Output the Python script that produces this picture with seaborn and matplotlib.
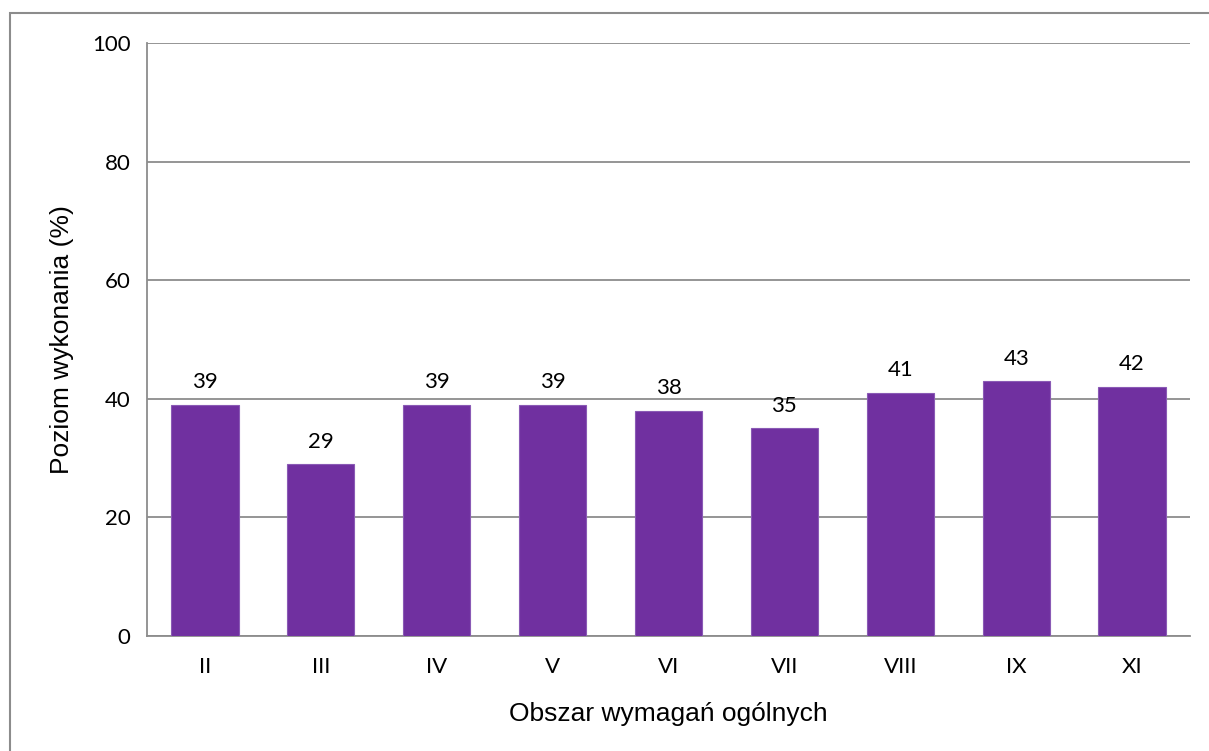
import matplotlib
matplotlib.use("Agg")
import matplotlib.pyplot as plt
from matplotlib.patches import Rectangle
from matplotlib.ticker import FixedLocator
import seaborn as sns
import pandas as pd

categories = ["II", "III", "IV", "V", "VI", "VII", "VIII", "IX", "XI"]
values = [39, 29, 39, 39, 38, 35, 41, 43, 42]
y_ticks = [0, 20, 40, 60, 80, 100]

sns.set_style("white")
plt.rcParams["font.family"] = ["Lato", "DejaVu Sans"]
plt.rcParams["text.color"] = "black"
plt.rcParams["axes.labelcolor"] = "black"
plt.rcParams["xtick.color"] = "black"
plt.rcParams["ytick.color"] = "black"

df = pd.DataFrame({"obszar": categories, "wynik": values})

fig = plt.figure(figsize=(12.09, 7.51), dpi=100)
ax = fig.add_axes([147 / 1209, 1 - 636 / 751, (1190 - 147) / 1209, (636 - 43) / 751])

grid_col = "#8c8c8c"
sns.barplot(data=df, x="obszar", y="wynik", color="#7030A0", saturation=1,
            width=0.58, ax=ax, zorder=3, edgecolor="#8a5ab5", linewidth=0.8)

ax.set_ylim(0, 100)
ax.set_xlim(-0.5, len(categories) - 0.5)
ax.set_yticks(y_ticks)
ax.yaxis.grid(True, color=grid_col, linewidth=1.3, zorder=0)
ax.set_axisbelow(True)

for s in ["top", "right"]:
    ax.spines[s].set_visible(False)
for s in ["left", "bottom"]:
    ax.spines[s].set_color(grid_col)
    ax.spines[s].set_linewidth(1.3)

ax.tick_params(axis="y", length=6, width=1.3, color=grid_col, labelcolor="black",
               labelsize=16, pad=6)
ax.tick_params(axis="x", which="major", length=0, labelcolor="black",
               labelsize=16, pad=15)
ax.xaxis.set_minor_locator(FixedLocator([i - 0.5 for i in range(len(categories) + 1)]))
ax.tick_params(axis="x", which="minor", length=6, width=1.3, color=grid_col)

ax.bar_label(ax.containers[0], fmt="%d", padding=9, fontsize=16, color="black")

lab_font = {"family": ["Liberation Sans", "DejaVu Sans"], "size": 19, "color": "black"}
ax.set_xlabel("Obszar wymagań ogólnych", fontdict=lab_font, labelpad=18)
ax.set_ylabel("Poziom wykonania (%)", fontdict=lab_font, labelpad=13)

fig.patches.append(Rectangle((10 / 1209, -0.1), 1.2, 1 - 13 / 751 + 0.1,
                             transform=fig.transFigure, fill=False,
                             edgecolor="#8c8c8c", linewidth=1.5))

fig.savefig("out.png", dpi=100)
